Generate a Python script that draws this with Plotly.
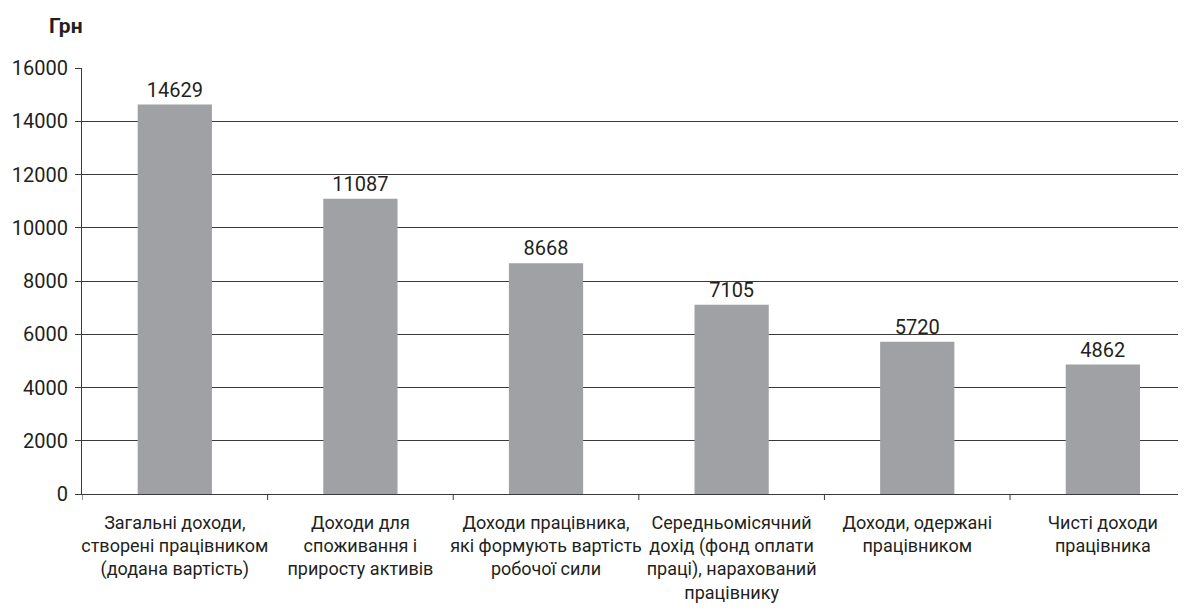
import plotly.graph_objects as go

categories = [
    "Загальні доходи,<br>створені працівником<br>(додана вартість)",
    "Доходи для<br>споживання і<br>приросту активів",
    "Доходи працівника,<br>які формують вартість<br>робочої сили",
    "Середньомісячний<br>дохід (фонд оплати<br>праці), нарахований<br>працівнику",
    "Доходи, одержані<br>працівником",
    "Чисті доходи<br>працівника",
]
values = [14629, 11087, 8668, 7105, 5720, 4862]
y_ticks = [0, 2000, 4000, 6000, 8000, 10000, 12000, 14000, 16000]
y_title = "Грн"

FONT = "Roboto, sans-serif"
TXT = "#231F20"
LINE = "#3a3a3a"

fig = go.Figure(
    go.Bar(
        x=list(range(len(categories))),
        y=values,
        width=0.4,
        marker=dict(color="#A0A1A5", line=dict(width=0)),
        text=[str(v) for v in values],
        textposition="outside",
        textfont=dict(family=FONT, size=20, color=TXT),
        cliponaxis=False,
    )
)

# page body has an 8px margin, so the figure is sized/offset to compensate
fig.update_layout(
    width=1178,
    height=602,
    margin=dict(l=74, r=0, t=60, b=116),
    paper_bgcolor="white",
    plot_bgcolor="white",
    showlegend=False,
    font=dict(family=FONT, color=TXT),
    bargap=0.6,
)

fig.update_xaxes(
    tickmode="array",
    tickvals=list(range(len(categories))),
    ticktext=categories,
    tickangle=0,
    automargin=False,
    range=[-0.5, 5.448],
    showgrid=False,
    showline=True,
    linecolor=LINE,
    linewidth=1,
    ticks="outside",
    ticklen=12,
    tickcolor="rgba(0,0,0,0)",
    tickfont=dict(family=FONT, size=18, color=TXT),
    zeroline=False,
)

fig.update_yaxes(
    range=[0, 16000],
    automargin=False,
    tickmode="array",
    tickvals=y_ticks,
    ticktext=[str(t) for t in y_ticks],
    showgrid=True,
    gridcolor=LINE,
    gridwidth=1,
    showline=True,
    linecolor=LINE,
    linewidth=1,
    ticks="outside",
    ticklen=6,
    tickcolor=LINE,
    ticklabelstandoff=3,
    tickfont=dict(family=FONT, size=20, color=TXT),
    zeroline=False,
)

# category boundary tick marks below the x axis
for i in range(len(categories) + 1):
    fig.add_shape(
        type="line",
        xref="x", yref="paper",
        x0=i - 0.5, x1=i - 0.5,
        y0=0, y1=-0.014,
        line=dict(color=LINE, width=1),
    )

fig.add_annotation(
    text="<b>" + y_title + "</b>",
    xref="paper", yref="paper",
    x=-0.0145, y=1.098,
    xanchor="center", yanchor="middle",
    showarrow=False,
    font=dict(family=FONT, size=21, color=TXT),
)

fig.write_html("out.html")
